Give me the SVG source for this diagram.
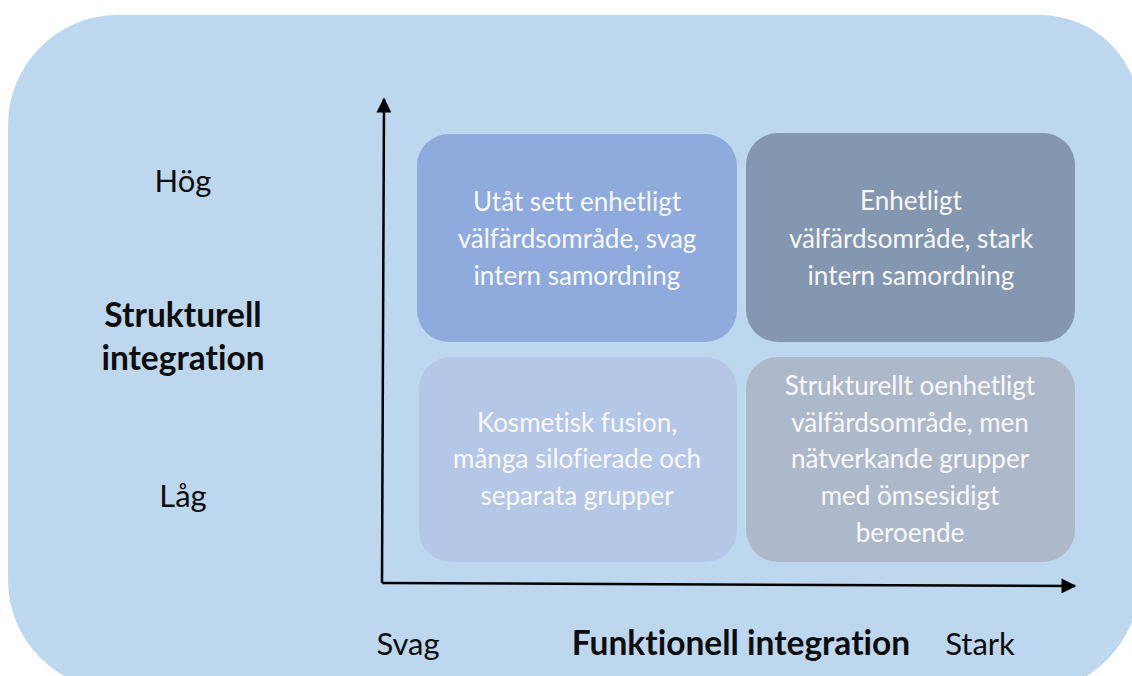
<svg xmlns="http://www.w3.org/2000/svg" width="1132" height="676" viewBox="0 0 1132 676">
<style>
text{font-variant-ligatures:none;font-feature-settings:"liga" 0,"dlig" 0}
.lbl{font-family:Lato,"Liberation Sans",sans-serif;fill:#0d0d0d;text-anchor:middle}
.reg{font-size:31px}
.bold{font-size:33.5px;font-weight:bold}
.box text{font-family:Lato,"Liberation Sans",sans-serif;font-size:26px;fill:#f8f8f8;text-anchor:middle}
.axis{stroke:#000;stroke-width:2.5;fill:none}
</style>
<defs>
<marker id="arr" viewBox="0 0 10 10" refX="9" refY="5" markerWidth="16" markerHeight="15" markerUnits="userSpaceOnUse" orient="auto">
<path d="M0,0 L10,5 L0,10 Z" fill="#000"/>
</marker>
</defs>
<path id="background" d="M118,15 H1040 A100,100 0 0 1 1140,115 V580 A113,113 0 0 1 1027,693 L118,690 A110,110 0 0 1 8,580 V125 A110,110 0 0 1 118,15 Z" fill="#BDD7EE"/>
<g id="box-tl" class="box">
<rect x="417" y="134" width="320" height="208" rx="32" fill="#8FAADC"/>
<text x="577" y="211">Utåt sett enhetligt</text>
<text x="577" y="248">välfärdsområde, svag</text>
<text x="577" y="285">intern samordning</text>
</g>
<g id="box-tr" class="box">
<rect x="746" y="133" width="329" height="209" rx="32" fill="#8497B0"/>
<text x="911" y="210">Enhetligt</text>
<text x="911" y="248">välfärdsområde, stark</text>
<text x="911" y="285">intern samordning</text>
</g>
<g id="box-bl" class="box">
<rect x="419" y="357" width="318" height="205" rx="32" fill="#B4C7E7"/>
<text x="577" y="432">Kosmetisk fusion,</text>
<text x="577" y="468">många silofierade och</text>
<text x="577" y="505">separata grupper</text>
</g>
<g id="box-br" class="box">
<rect x="746" y="357" width="329" height="205" rx="32" fill="#ADB9CA"/>
<text x="910" y="395">Strukturellt oenhetligt</text>
<text x="910" y="432">välfärdsområde, men</text>
<text x="910" y="468">nätverkande grupper</text>
<text x="910" y="505">med ömsesidigt</text>
<text x="910" y="542">beroende</text>
</g>
<g id="connectors">
<path class="axis" d="M382,583 L384,99" marker-end="url(#arr)"/>
<path class="axis" d="M382,583 L1075,586" marker-end="url(#arr)"/>
</g>
<g id="labels">
<text class="lbl reg" x="183" y="192">Hög</text>
<text class="lbl reg" x="183" y="507">Låg</text>
<text class="lbl bold" x="183" y="327">Strukturell</text>
<text class="lbl bold" x="183" y="370">integration</text>
<text class="lbl reg" x="408" y="655">Svag</text>
<text class="lbl bold" x="741" y="655">Funktionell integration</text>
<text class="lbl reg" x="980" y="655">Stark</text>
</g>
</svg>
